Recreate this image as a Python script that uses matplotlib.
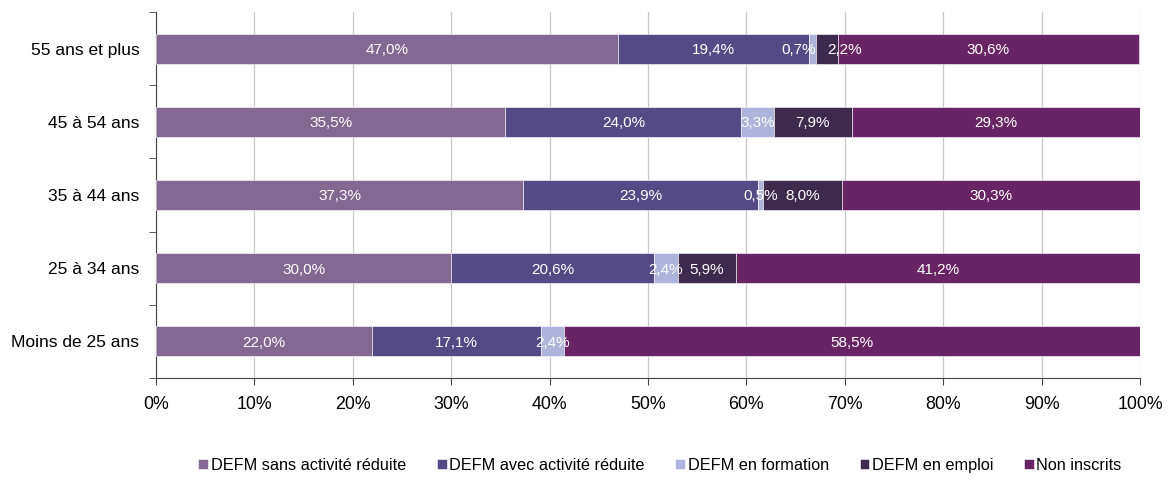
import matplotlib
matplotlib.use("Agg")
import matplotlib.pyplot as plt
import numpy as np

plt.rcParams['font.family'] = ['Liberation Sans', 'DejaVu Sans']

categories = ["55 ans et plus", "45 à 54 ans", "35 à 44 ans", "25 à 34 ans", "Moins de 25 ans"]
series_names = ["DEFM sans activité réduite", "DEFM avec activité réduite",
                "DEFM en formation", "DEFM en emploi", "Non inscrits"]
sans_activite = [47.0, 35.5, 37.3, 30.0, 22.0]
avec_activite = [19.4, 24.0, 23.9, 20.6, 17.1]
en_formation = [0.7, 3.3, 0.5, 2.4, 2.4]
en_emploi = [2.2, 7.9, 8.0, 5.9, 0.0]
non_inscrits = [30.6, 29.3, 30.3, 41.2, 58.5]
xtick_values = [0, 10, 20, 30, 40, 50, 60, 70, 80, 90, 100]

colors = ["#836891", "#544A85", "#AEB3DB", "#3D2A4C", "#692465"]
series = [sans_activite, avec_activite, en_formation, en_emploi, non_inscrits]

# small manual nudges (in data units) for crowded labels: (series index, row index) -> dx
label_nudge = {(2, 0): -1.4, (3, 0): 1.8}

fig = plt.figure(figsize=(11.68, 4.86), dpi=100)
ax = fig.add_axes([156/1168, 1-378/486, (1140-156)/1168, (378-12)/486])

y = np.arange(len(categories))
left = np.zeros(len(categories))
for si, (name, vals, c) in enumerate(zip(series_names, series, colors)):
    vals = np.array(vals)
    ax.barh(y, vals, left=left, height=0.41, color=c, label=name,
            edgecolor='white', linewidth=0.4, zorder=3)
    for yi, (l, v) in enumerate(zip(left, vals)):
        if v > 0:
            dx = label_nudge.get((si, yi), 0)
            ax.text(l + v/2 + dx, yi + 0.02, f"{v:.1f}%".replace('.', ','), ha='center', va='center',
                    color='white', fontsize=11, zorder=4)
    left += vals

ax.set_xlim(0, 100)
ax.set_ylim(len(categories) - 0.5, -0.5)
ax.set_xticks(xtick_values)
ax.set_xticklabels([f"{v}%" for v in xtick_values], fontsize=12.8)
ax.set_yticks(y)
ax.set_yticklabels(categories, fontsize=12.5)
ax.set_yticks(np.arange(-0.5, len(categories), 1), minor=True)
ax.tick_params(axis='y', which='major', length=0, pad=12)
ax.tick_params(axis='y', which='minor', length=5, color='#444444')
ax.tick_params(axis='x', length=5, color='#444444', pad=8)
ax.grid(axis='x', color='#c8c8c8', linewidth=0.9, zorder=0)
for s in ['top', 'right']:
    ax.spines[s].set_visible(False)
ax.spines['left'].set_color('#444444')
ax.spines['bottom'].set_color('#444444')

handles, labels = ax.get_legend_handles_labels()
fig.legend(handles, labels, loc='center', bbox_to_anchor=(660/1168, 1-465/486), ncol=5,
           frameon=False, fontsize=11.7, handlelength=0.6, handleheight=0.6,
           handletextpad=0.15, columnspacing=1.9)

fig.savefig("out.png", dpi=100)
